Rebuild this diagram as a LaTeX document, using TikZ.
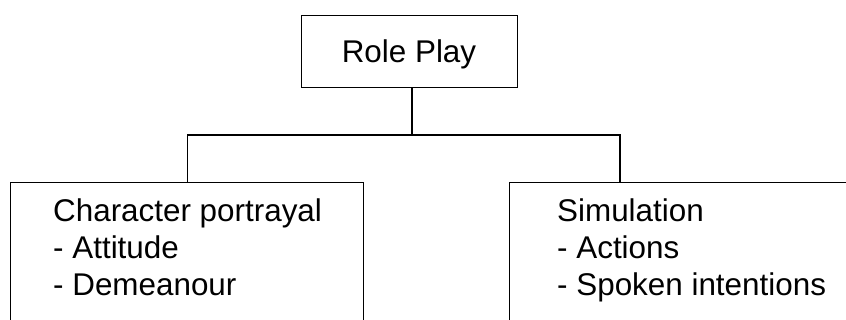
\documentclass[tikz,border=0pt]{standalone}
\usepackage{fontspec}
\setmainfont{Liberation Sans}
\begin{document}
\begin{tikzpicture}[x=1pt,y=-1pt,
  boxstyle/.style={draw=black,line width=1.3pt,rectangle,inner sep=0pt,anchor=north west},
  txt/.style={inner sep=0pt,align=left,anchor=base west,font=\fontsize{31.4}{37}\selectfont},
  conn/.style={draw=black,line width=1.3pt}]
\clip (0,0) rectangle (846,320);
\fill[white] (0,0) rectangle (846,320);
\node[boxstyle,minimum width=216pt,minimum height=72pt] (top) at (301,15) {};
\node[txt,anchor=base] (toptxt) at (409,63) {Role Play};
\node[boxstyle,minimum width=353pt,minimum height=160pt] (left) at (10,182) {};
\node[boxstyle,minimum width=360pt,minimum height=160pt] (right) at (509,182) {};
\node[txt] (lefttxt) at (53,296) {Character portrayal\\- Attitude\\- Demeanour};
\node[txt] (righttxt) at (557,296) {Simulation\\- Actions\\- Spoken intentions};
\coordinate (bus) at (412,135);
\coordinate (rj) at (620,182);
\draw[conn] (top.south -| bus) -- (bus);
\draw[conn] (left.north) |- (bus) -| (rj);
\end{tikzpicture}
\end{document}
